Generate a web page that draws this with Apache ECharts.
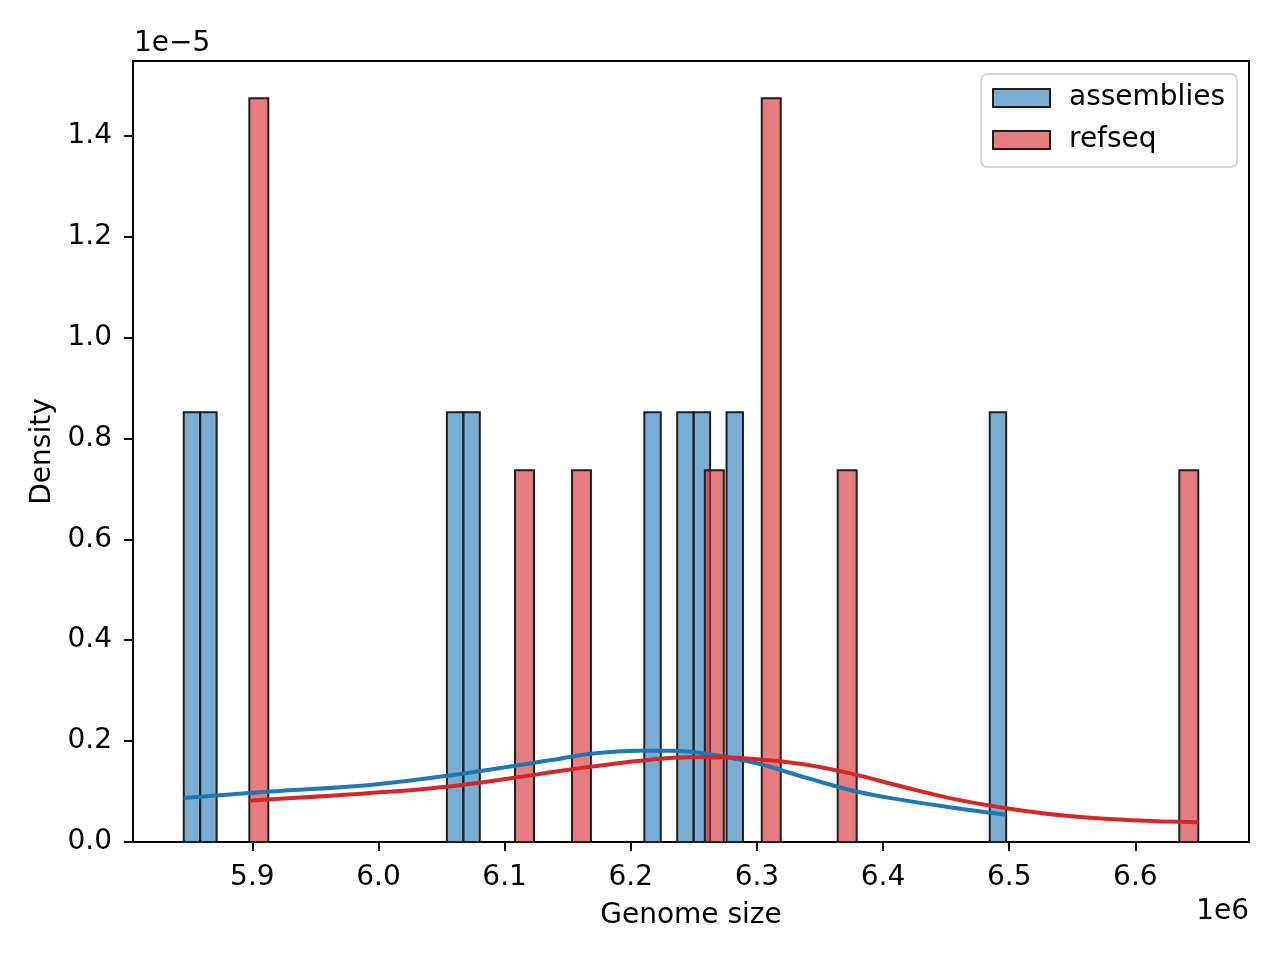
<!DOCTYPE html>
<html style="height: 100%">
<head>
    <meta charset="utf-8">
    <title>Genome size</title>
</head>
<body style="height: 100%; margin: 0; background: #fff;">
    <div id="container" style="width: 1280px; height: 960px;"></div>
    <script src="https://cdn.jsdelivr.net/npm/echarts@6/dist/echarts.min.js"></script>
    <script type="text/javascript">
        // histogram bins (left edge of each bin, density)
        var assembliesBinWidth = 13040;
        var assembliesBinLeft = [5845600, 5858640, 6054240, 6067280, 6210720, 6236800, 6249840, 6275920, 6484560];
        var assembliesDensity = [0.852e-5, 0.852e-5, 0.852e-5, 0.852e-5, 0.852e-5, 0.852e-5, 0.852e-5, 0.852e-5, 0.852e-5];

        var refseqBinWidth = 15046;
        var refseqBinLeft = [5897600, 6108244, 6153382, 6258704, 6303842, 6364026, 6634854];
        var refseqDensity = [1.474e-5, 0.737e-5, 0.737e-5, 0.737e-5, 1.474e-5, 0.737e-5, 0.737e-5];

        // kde curves (x, density in 1e-5)
        var assembliesKdeX = [5845600, 5914500, 5993700, 6059600, 6136200, 6167900, 6207500, 6233600, 6260300, 6299800, 6339400, 6379000, 6413300, 6452900, 6497600];
        var assembliesKdeY = [0.087, 0.100, 0.113, 0.133, 0.162, 0.175, 0.181, 0.181, 0.175, 0.156, 0.127, 0.100, 0.084, 0.069, 0.054];
        var refseqKdeX = [5897600, 5993700, 6059600, 6128300, 6167900, 6207500, 6247100, 6273400, 6299800, 6339400, 6379000, 6413300, 6452900, 6497800, 6545300, 6598000, 6649900];
        var refseqKdeY = [0.082, 0.097, 0.111, 0.135, 0.149, 0.161, 0.168, 0.168, 0.164, 0.153, 0.133, 0.111, 0.087, 0.067, 0.052, 0.043, 0.039];

        var xTicks = [5900000, 6000000, 6100000, 6200000, 6300000, 6400000, 6500000, 6600000];
        var yTicks = [0, 0.2e-5, 0.4e-5, 0.6e-5, 0.8e-5, 1.0e-5, 1.2e-5, 1.4e-5];

        var FONT = 'DejaVu Sans';
        var FS = 28;
        var BLUE_FILL = 'rgba(31,119,180,0.6)';
        var RED_FILL = 'rgba(214,39,40,0.6)';

        function bins(lefts, width, dens) {
            var out = [];
            for (var i = 0; i < lefts.length; i++) {
                out.push([lefts[i], lefts[i] + width, dens[i]]);
            }
            return out;
        }

        function curve(xs, ys) {
            var out = [];
            for (var i = 0; i < xs.length; i++) {
                out.push([xs[i], ys[i] * 1e-5]);
            }
            return out;
        }

        function barRenderer(fill) {
            return function (params, api) {
                var p0 = api.coord([api.value(0), api.value(2)]);
                var p1 = api.coord([api.value(1), 0]);
                return {
                    type: 'rect',
                    shape: { x: p0[0], y: p0[1], width: p1[0] - p0[0], height: p1[1] - p0[1] },
                    style: { fill: fill, stroke: '#1f1f1f', lineWidth: 2 }
                };
            };
        }

        var dom = document.getElementById('container');
        var myChart = echarts.init(dom);

        var option = {
            animation: false,
            backgroundColor: '#fff',
            textStyle: { fontFamily: FONT },
            grid: {
                left: 133, right: 31, top: 61, bottom: 118,
                show: true, borderColor: '#000', borderWidth: 2
            },
            legend: {
                orient: 'vertical',
                left: 981, top: 74,
                padding: [10, 12, 13, 11],
                itemWidth: 57, itemHeight: 18, itemGap: 14,
                backgroundColor: '#fff',
                borderColor: '#d6d6d6', borderWidth: 2, borderRadius: 6,
                textStyle: { fontFamily: FONT, fontSize: FS, color: '#000', padding: [0, 0, 0, 14] },
                data: [
                    { name: 'assemblies', icon: 'rect', itemStyle: { color: BLUE_FILL, borderColor: '#1f1f1f', borderWidth: 2 } },
                    { name: 'refseq', icon: 'rect', itemStyle: { color: RED_FILL, borderColor: '#1f1f1f', borderWidth: 2 } }
                ]
            },
            xAxis: {
                type: 'value',
                min: 5805385, max: 6690115,
                name: 'Genome size', nameLocation: 'middle', nameGap: 60,
                nameTextStyle: { fontFamily: FONT, fontSize: FS, color: '#000' },
                axisLine: { lineStyle: { color: '#000', width: 2 } },
                axisTick: { show: true, length: 9, lineStyle: { color: '#000', width: 2 }, customValues: xTicks },
                axisLabel: {
                    fontFamily: FONT, fontSize: FS, color: '#000', margin: 22,
                    customValues: xTicks,
                    formatter: function (v) { return (v / 1e6).toFixed(1); }
                },
                splitLine: { show: false }
            },
            yAxis: {
                type: 'value',
                min: 0, max: 1.548e-5,
                name: 'Density', nameLocation: 'middle', nameGap: 76,
                nameTextStyle: { fontFamily: FONT, fontSize: FS, color: '#000' },
                axisLine: { show: true, lineStyle: { color: '#000', width: 2 } },
                axisTick: { show: true, length: 9, lineStyle: { color: '#000', width: 2 }, customValues: yTicks },
                axisLabel: {
                    fontFamily: FONT, fontSize: FS, color: '#000', margin: 21,
                    customValues: yTicks,
                    formatter: function (v) { return (v / 1e-5).toFixed(1); }
                },
                splitLine: { show: false }
            },
            graphic: [
                { type: 'text', left: 134, top: 30, style: { text: '1e\u22125', fontFamily: FONT, fontSize: FS, fill: '#000' } },
                { type: 'text', right: 31, top: 898, style: { text: '1e6', fontFamily: FONT, fontSize: FS, fill: '#000' } }
            ],
            series: [
                {
                    name: 'assemblies', type: 'custom',
                    renderItem: barRenderer(BLUE_FILL),
                    encode: { x: [0, 1], y: 2 },
                    itemStyle: { color: BLUE_FILL },
                    data: bins(assembliesBinLeft, assembliesBinWidth, assembliesDensity)
                },
                {
                    name: 'refseq', type: 'custom',
                    renderItem: barRenderer(RED_FILL),
                    encode: { x: [0, 1], y: 2 },
                    itemStyle: { color: RED_FILL },
                    data: bins(refseqBinLeft, refseqBinWidth, refseqDensity)
                },
                {
                    name: 'assemblies kde', type: 'line', smooth: 0.4, showSymbol: false,
                    lineStyle: { color: '#1f77b4', width: 4 },
                    data: curve(assembliesKdeX, assembliesKdeY)
                },
                {
                    name: 'refseq kde', type: 'line', smooth: 0.4, showSymbol: false,
                    lineStyle: { color: '#d62728', width: 4 },
                    data: curve(refseqKdeX, refseqKdeY)
                }
            ]
        };

        myChart.setOption(option);
    </script>
</body>
</html>
